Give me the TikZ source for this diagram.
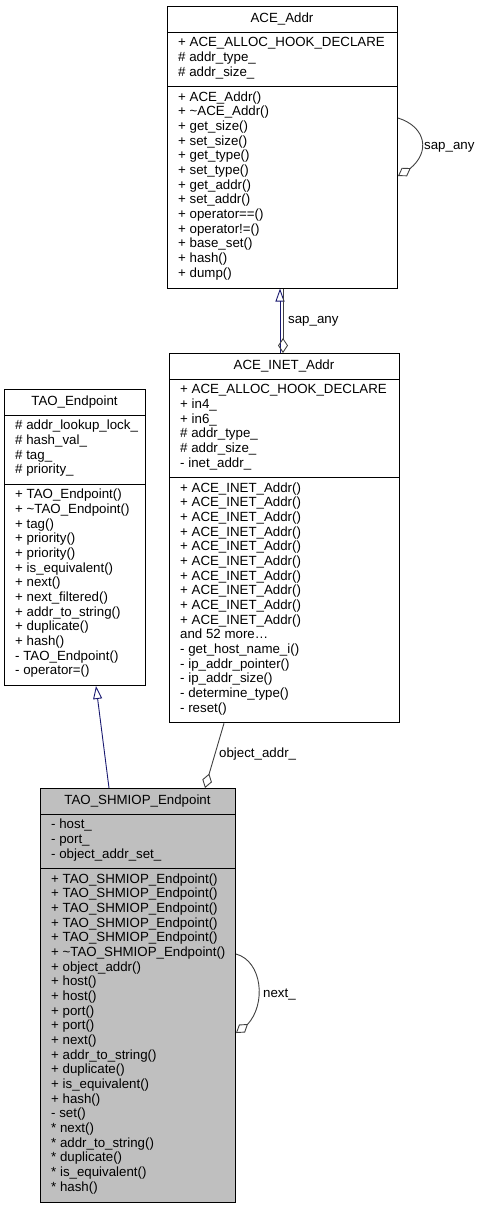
\documentclass[tikz,border=0pt]{standalone}
\usepackage{fontspec}
\setmainfont{Liberation Sans}
\usetikzlibrary{arrows.meta,bending}
\definecolor{inhcol}{HTML}{191970}
\definecolor{aggcol}{HTML}{404040}
\definecolor{clsfill}{HTML}{BFBFBF}
\tikzset{
  classbox/.style={draw=black, line width=1pt, fill=white, inner sep=0pt, anchor=north west},
  divider/.style={draw=black, line width=1pt},
  txt/.style={inner sep=0pt, anchor=base west, font=\fontsize{13.3}{14.67}\selectfont},
  ttl/.style={inner sep=0pt, anchor=base, font=\fontsize{13.3}{14.67}\selectfont},
  lbl/.style={inner sep=0pt, anchor=base west, font=\fontsize{13.3}{14.67}\selectfont},
  inhline/.style={draw=inhcol, line width=0.9pt, -{Triangle[open, length=13pt, width=9pt]}},
  aggline/.style={draw=aggcol, line width=0.9pt, -{Diamond[open, length=15pt, width=10pt]}},
}
\begin{document}
\begin{tikzpicture}[x=1pt,y=-1pt]
\useasboundingbox (0,0) rectangle (480,1208);

% ---------------- ACE_Addr ----------------
\node[classbox, minimum width=230pt, minimum height=281.5pt] (aceaddr) at (167,6) {};
\draw[divider] (167,32) -- (397,32);
\draw[divider] (167,86.3) -- (397,86.3);
\node[ttl] (aceaddrt) at (282,22) {ACE\_Addr};
\foreach \t [count=\i from 0] in {+ ACE\_ALLOC\_HOOK\_DECLARE, \# addr\_type\_, \# addr\_size\_}
  \node[txt] (aaa\i) at (178,{46.9+\i*14.67}) {\t};
\foreach \t [count=\i from 0] in {+ ACE\_Addr(), + \textasciitilde ACE\_Addr(), + get\_size(), + set\_size(), + get\_type(), + set\_type(), + get\_addr(), + set\_addr(), + operator==(), + operator!=(), + base\_set(), + hash(), + dump()}
  \node[txt] (aam\i) at (178,{101.2+\i*14.67}) {\t};

% ---------------- ACE_INET_Addr ----------------
\node[classbox, minimum width=230pt, minimum height=369.3pt] (inet) at (169,353) {};
\draw[divider] (169,379) -- (399,379);
\draw[divider] (169,477.3) -- (399,477.3);
\node[ttl] (inett) at (284,369) {ACE\_INET\_Addr};
\foreach \t [count=\i from 0] in {+ ACE\_ALLOC\_HOOK\_DECLARE, + in4\_, + in6\_, \# addr\_type\_, \# addr\_size\_, - inet\_addr\_}
  \node[txt] (ia\i) at (180,{393.9+\i*14.67}) {\t};
\foreach \t [count=\i from 0] in {+ ACE\_INET\_Addr(), + ACE\_INET\_Addr(), + ACE\_INET\_Addr(), + ACE\_INET\_Addr(), + ACE\_INET\_Addr(), + ACE\_INET\_Addr(), + ACE\_INET\_Addr(), + ACE\_INET\_Addr(), + ACE\_INET\_Addr(), + ACE\_INET\_Addr(), {and 52 more\dots}, - get\_host\_name\_i(), - ip\_addr\_pointer(), - ip\_addr\_size(), - determine\_type(), - reset()}
  \node[txt] (im\i) at (180,{492.2+\i*14.67}) {\t};

% ---------------- TAO_Endpoint ----------------
\node[classbox, minimum width=141pt, minimum height=296pt] (taoep) at (4,389) {};
\draw[divider] (4,415) -- (145,415);
\draw[divider] (4,484) -- (145,484);
\node[ttl] (taoept) at (74.5,405.5) {TAO\_Endpoint};
\foreach \t [count=\i from 0] in {\# addr\_lookup\_lock\_, \# hash\_val\_, \# tag\_, \# priority\_}
  \node[txt] (ta\i) at (15,{429.9+\i*14.67}) {\t};
\foreach \t [count=\i from 0] in {+ TAO\_Endpoint(), + \textasciitilde TAO\_Endpoint(), + tag(), + priority(), + priority(), + is\_equivalent(), + next(), + next\_filtered(), + addr\_to\_string(), + duplicate(), + hash(), - TAO\_Endpoint(), - operator=()}
  \node[txt] (tm\i) at (15,{498.9+\i*14.67}) {\t};

% ---------------- TAO_SHMIOP_Endpoint ----------------
\node[classbox, fill=clsfill, minimum width=195pt, minimum height=413.5pt] (shmiop) at (40,788) {};
\draw[divider] (40,814) -- (235,814);
\draw[divider] (40,868.3) -- (235,868.3);
\node[ttl] (shmiopt) at (137.5,804) {TAO\_SHMIOP\_Endpoint};
\foreach \t [count=\i from 0] in {- host\_, - port\_, - object\_addr\_set\_}
  \node[txt] (sa\i) at (51,{828.9+\i*14.67}) {\t};
\foreach \t [count=\i from 0] in {+ TAO\_SHMIOP\_Endpoint(), + TAO\_SHMIOP\_Endpoint(), + TAO\_SHMIOP\_Endpoint(), + TAO\_SHMIOP\_Endpoint(), + TAO\_SHMIOP\_Endpoint(), + \textasciitilde TAO\_SHMIOP\_Endpoint(), + object\_addr(), + host(), + host(), + port(), + port(), + next(), + addr\_to\_string(), + duplicate(), + is\_equivalent(), + hash(), - set(), * next(), * addr\_to\_string(), * duplicate(), * is\_equivalent(), * hash()}
  \node[txt] (sm\i) at (51,{883.2+\i*14.67}) {\t};

% ---------------- helper coordinates ----------------
\coordinate (x280) at (280,0);
\coordinate (x283) at (283,0);
\coordinate (x96) at (96,0);
\coordinate (x109) at (109,0);
\coordinate (x224) at (224,0);
\coordinate (x205) at (205,0);
\coordinate (y118) at (0,118);
\coordinate (y176) at (0,176);
\coordinate (y954) at (0,954);
\coordinate (y1033) at (0,1033);

% ---------------- connectors ----------------
\draw[inhline] (inet.north -| x280) -- (aceaddr.south -| x280);
\draw[aggline] (aceaddr.south -| x283) -- (inet.north -| x283);
\node[lbl] (lsap1) at (288,323) {sap\_any};

\draw[aggline] (aceaddr.east |- y118) .. controls (430,128) and (432,160) .. (aceaddr.east |- y176);
\node[lbl] (lsap2) at (424,149.5) {sap\_any};

\draw[inhline] (shmiop.north -| x109) -- (taoep.south -| x96);

\draw[aggline] (inet.south -| x224) -- (shmiop.north -| x205);
\node[lbl] (lobj) at (219,757.5) {object\_addr\_};

\draw[aggline] (shmiop.east |- y954) .. controls (266,962) and (268,1018) .. (shmiop.east |- y1033);
\node[lbl] (lnext) at (263,997) {next\_};
\end{tikzpicture}
\end{document}
